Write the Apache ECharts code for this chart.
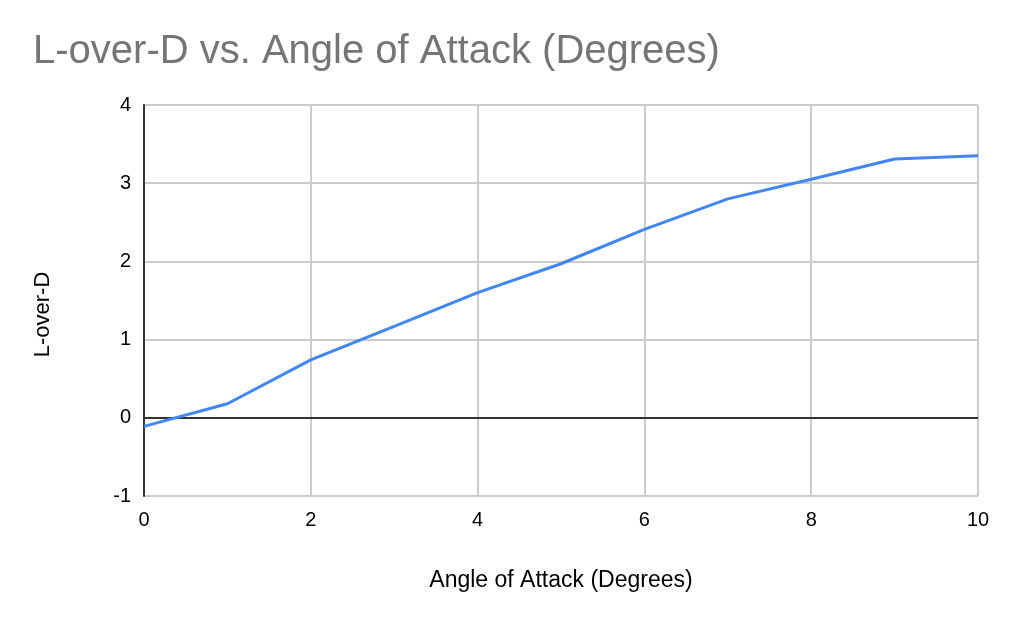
<!DOCTYPE html>
<html>
<head>
<meta charset="utf-8">
<script src="https://cdn.jsdelivr.net/npm/echarts@6/dist/echarts.min.js"></script>
<style>
html,body{margin:0;padding:0;background:#fff;}
#chart{width:1009px;height:624px;}
</style>
</head>
<body>
<div id="chart"></div>
<script>
var chartTitle = 'L-over-D vs. Angle of Attack (Degrees)';
var xAxisName = 'Angle of Attack (Degrees)';
var yAxisName = 'L-over-D';
var angles = [0, 1, 2, 3, 4, 5, 6, 7, 8, 9, 10];
var liftOverDrag = [-0.11, 0.18, 0.74, 1.17, 1.6, 1.97, 2.41, 2.8, 3.05, 3.31, 3.35];

var points = angles.map(function (a, i) { return [a, liftOverDrag[i]]; });
var font = '"Liberation Sans", Arial, sans-serif';

var chart = echarts.init(document.getElementById('chart'), null, {renderer: 'canvas'});
chart.setOption({
  animation: false,
  backgroundColor: '#ffffff',
  title: {
    text: chartTitle,
    left: 28,
    top: 27,
    textStyle: {color: '#757575', fontSize: 40, fontWeight: 'normal', fontFamily: font}
  },
  grid: {left: 144, right: 31, top: 105, bottom: 128},
  xAxis: {
    type: 'value',
    min: 0, max: 10, interval: 2,
    name: xAxisName,
    nameLocation: 'middle',
    nameGap: 73,
    nameTextStyle: {color: '#000', fontSize: 23, fontFamily: font},
    axisLine: {show: false},
    axisTick: {show: false},
    axisLabel: {color: '#000', fontSize: 20, fontFamily: font, margin: 14},
    splitLine: {show: true, lineStyle: {color: '#cccccc', width: 2}}
  },
  yAxis: {
    type: 'value',
    min: -1, max: 4, interval: 1,
    name: yAxisName,
    nameLocation: 'middle',
    nameGap: 90,
    nameTextStyle: {color: '#000', fontSize: 22, fontFamily: font, padding: [0, 28, 0, 0]},
    axisLine: {show: true, lineStyle: {color: '#333333', width: 2}},
    axisTick: {show: false},
    axisLabel: {color: '#000', fontSize: 20, fontFamily: font, margin: 13},
    splitLine: {show: true, lineStyle: {color: '#cccccc', width: 2}}
  },
  series: [{
    type: 'line',
    data: points,
    showSymbol: false,
    symbol: 'none',
    lineStyle: {color: '#4285F4', width: 3},
    z: 5,
    markLine: {
      silent: true,
      symbol: 'none',
      label: {show: false},
      lineStyle: {color: '#333333', width: 2, type: 'solid'},
      data: [{yAxis: 0}],
      z: 3
    }
  }]
});
</script>
</body>
</html>
